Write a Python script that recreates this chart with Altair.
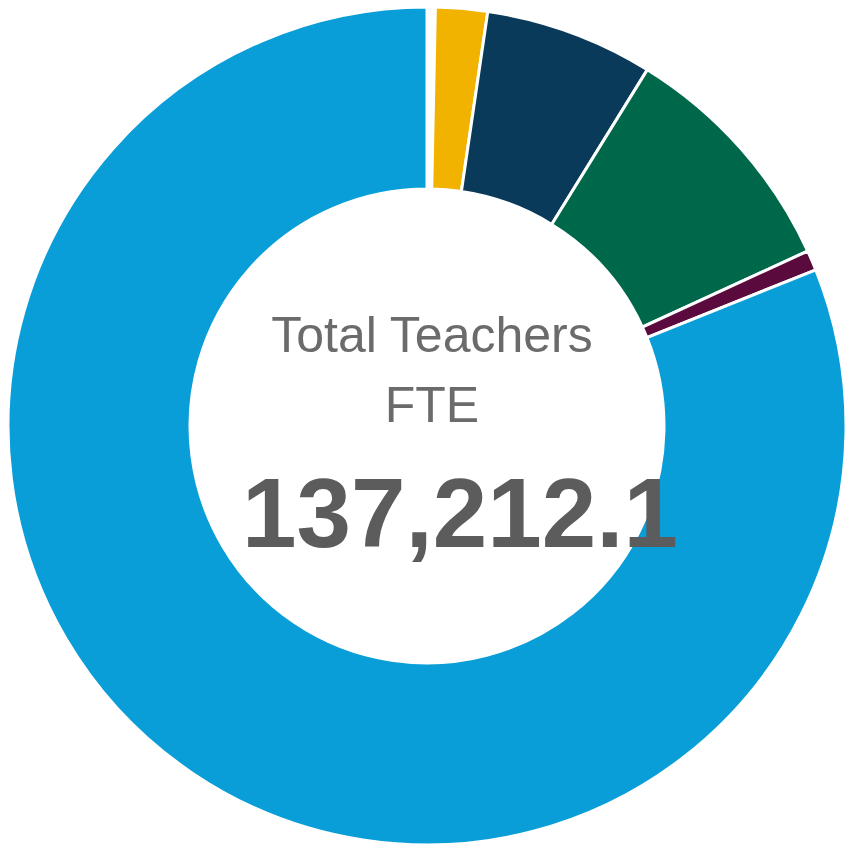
import altair as alt
import pandas as pd

categories = ["Category A", "Category B", "Category C", "Category D", "Category E"]
values = [2752.0, 8944.0, 12842.0, 1070.0, 111604.1]
colors = ["#F2B200", "#0A3A5A", "#00684A", "#5A0A3C", "#0A9ED8"]
order_idx = [0, 1, 2, 3, 4]

title_lines = ["Total Teachers", "FTE"]
total_label = "137,212.1"

df = pd.DataFrame({"category": categories, "value": values, "ord": order_idx})

CX, CY = 419, 418

arc = alt.Chart(df).mark_arc(
    innerRadius=237, outerRadius=419, stroke="white", strokeWidth=3
).encode(
    theta=alt.Theta("value:Q", stack=True, scale=alt.Scale(range=[0.02, 6.2832])),
    color=alt.Color("category:N", scale=alt.Scale(domain=categories, range=colors), legend=None),
    order=alt.Order("ord:Q"),
    x=alt.value(CX),
    y=alt.value(CY),
)

t1 = alt.Chart(pd.DataFrame({"t": [title_lines[0]]})).mark_text(
    font="Liberation Sans", fontSize=50, color="#6b6b6b", align="center", baseline="alphabetic"
).encode(text="t:N", x=alt.value(424), y=alt.value(344))

t2 = alt.Chart(pd.DataFrame({"t": [title_lines[1]]})).mark_text(
    font="Liberation Sans", fontSize=50, color="#6b6b6b", align="center", baseline="alphabetic"
).encode(text="t:N", x=alt.value(424), y=alt.value(414))

t3 = alt.Chart(pd.DataFrame({"t": [total_label]})).mark_text(
    font="Liberation Sans", fontSize=98, fontWeight="bold", color="#5c5c5c", align="center", baseline="alphabetic"
).encode(text="t:N", x=alt.value(452), y=alt.value(539))

chart = alt.layer(arc, t1, t2, t3).properties(
    width=840, height=836, padding=0, autosize=alt.AutoSizeParams(type="none"), background="white"
).configure_view(stroke=None)

chart.save("out.html", embed_options={"renderer": "svg", "actions": False})
